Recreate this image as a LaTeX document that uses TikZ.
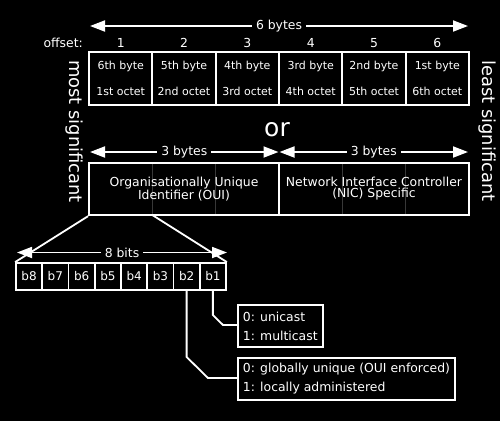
\documentclass[tikz,border=0pt]{standalone}
\usepackage{fontspec}
\setmainfont{DejaVu Sans}
\usetikzlibrary{arrows.meta}
\begin{document}
\begin{tikzpicture}[x=1pt,y=-1pt,
  wl/.style={draw=white,line width=1.8pt},
  arr/.style={draw=white,line width=1.8pt,{Triangle[length=15pt,width=11pt]}-{Triangle[length=15pt,width=11pt]}},
  lab/.style={fill=black,text=white,inner xsep=4pt,inner ysep=1pt,font=\fontsize{12.4}{14}\selectfont},
  txt/.style={text=white,inner sep=0pt,font=\fontsize{12.4}{14}\selectfont},
  cell/.style={draw=white,line width=1.8pt,minimum width=63.33pt,minimum height=53pt,inner sep=0pt,text=white,align=center,font=\fontsize{11}{26}\selectfont},
  half/.style={draw=white,line width=1.8pt,minimum width=190pt,minimum height=52.5pt,inner sep=0pt,text=white,align=center,font=\fontsize{12.4}{11}\selectfont},
  bit/.style={draw=white,line width=1.8pt,minimum width=26.25pt,minimum height=27pt,inner sep=0pt,text=white,font=\fontsize{12}{14}\selectfont},
  info/.style={draw=white,line width=1.8pt,minimum height=42pt,inner xsep=5pt,inner ysep=0pt,text=white,align=left,anchor=west,font=\fontsize{12.4}{19}\selectfont},
  side/.style={text=white,inner sep=0pt,rotate=-90,font=\fontsize{17.9}{20}\selectfont},
  dimline/.style={draw=white!22!black,line width=1.2pt}
]
\fill[black] (0,0) rectangle (500,421);
\useasboundingbox (0,0) rectangle (500,421);

% top arrow
\coordinate (tl) at (90,26);
\coordinate (tr) at (468,26);
\draw[arr] (tl) -- (tr) node[midway,lab]{6 bytes};

% offsets
\node[txt,anchor=east] (offs) at (83,43) {offset:};
\node[txt] (o1) at (120.7,43) {1};
\node[txt] (o2) at (184,43) {2};
\node[txt] (o3) at (247.3,43) {3};
\node[txt] (o4) at (310.7,43) {4};
\node[txt] (o5) at (374,43) {5};
\node[txt] (o6) at (437.3,43) {6};

% top cells
\node[cell] (c1) at (120.7,78.5) {6th byte\\1st octet};
\node[cell] (c2) at (184,78.5) {5th byte\\2nd octet};
\node[cell] (c3) at (247.3,78.5) {4th byte\\3rd octet};
\node[cell] (c4) at (310.7,78.5) {3rd byte\\4th octet};
\node[cell] (c5) at (374,78.5) {2nd byte\\5th octet};
\node[cell] (c6) at (437.3,78.5) {1st byte\\6th octet};

% or
\node[text=white,inner sep=0pt,font=\fontsize{25}{28}\selectfont] (or) at (277,129.5) {or};

% side labels
\node[side] (most) at (74,131.5) {most significant};
\node[side] (least) at (487,131) {least significant};

% middle arrows
\coordinate (ml) at (90,152);
\coordinate (mm1) at (278.5,152);
\coordinate (mm2) at (279.5,152);
\coordinate (mr) at (468,152);
\draw[arr] (ml) -- (mm1) node[midway,lab]{3 bytes};
\draw[arr] (mm2) -- (mr) node[midway,lab]{3 bytes};

% middle boxes
\draw[dimline] (152.3,164) -- (152.3,214);
\draw[dimline] (215.6,164) -- (215.6,214);
\draw[dimline] (342.3,164) -- (342.3,214);
\draw[dimline] (405.6,164) -- (405.6,214);
\node[half] (oui) at (184,189) {Organisationally Unique\\Identifier (OUI)};
\node[half] (nic) at (374,189) {Network Interface Controller\\(NIC) Specific};
\coordinate (ouidiv) at (152.3,215);

% bits
\node[bit] (b8) at (29.125,276.5) {b8};
\node[bit] (b7) at (55.375,276.5) {b7};
\node[bit] (b6) at (81.625,276.5) {b6};
\node[bit] (b5) at (107.875,276.5) {b5};
\node[bit] (b4) at (134.125,276.5) {b4};
\node[bit] (b3) at (160.375,276.5) {b3};
\node[bit] (b2) at (186.625,276.5) {b2};
\node[bit] (b1) at (212.875,276.5) {b1};

% expansion lines
\draw[wl] (oui.south west) -- (b8.north west);
\draw[wl] (ouidiv) -- (b1.north east);

% 8 bits arrow
\coordinate (bl) at (17,252.5);
\coordinate (br) at (227,252.5);
\draw[arr] (bl) -- (br) node[midway,lab]{8 bits};

% info boxes
\node[info] (uni) at (237,326) {0: unicast\\1: multicast};
\node[info] (glob) at (237,379) {0: globally unique (OUI enforced)\\1: locally administered};

% connectors
\coordinate (k1) at (212.875,315);
\coordinate (k2) at (223,325);
\draw[wl,line join=miter] (b1.south) -- (k1) -- (k2) -- (k2 -| uni.west);
\coordinate (k3) at (186.625,357);
\coordinate (k4) at (208,378);
\draw[wl,line join=miter] (b2.south) -- (k3) -- (k4) -- (k4 -| glob.west);
\end{tikzpicture}
\end{document}
